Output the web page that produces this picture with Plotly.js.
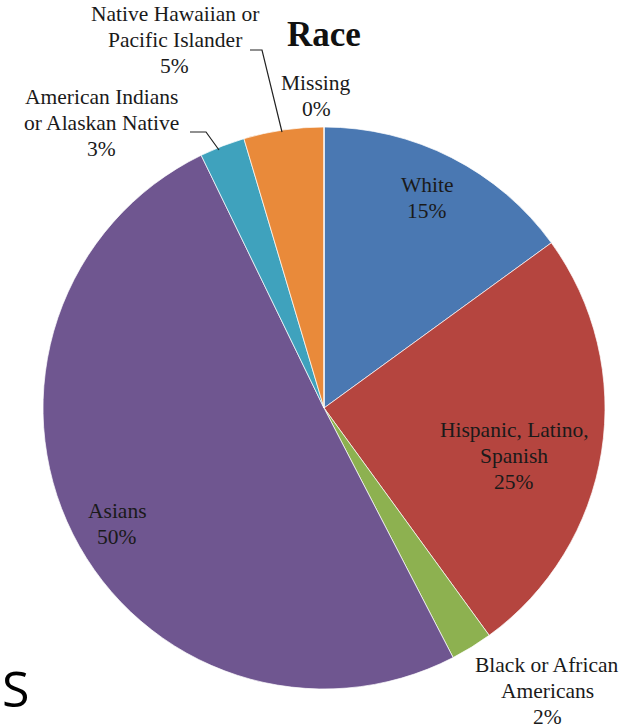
<!DOCTYPE html>
<html>
<head>
<meta charset="utf-8">
<script src="https://cdn.plot.ly/plotly-3.0.1.min.js"></script>
<style>
  html, body { margin: 0; padding: 0; background: #ffffff; }
  #chart { width: 642px; height: 728px; }
</style>
</head>
<body>
<div id="chart"></div>
<script>
// ---- data ----
const categories = ["White", "Hispanic, Latino, Spanish", "Black or African Americans", "Asians",
                    "American Indians or Alaskan Native", "Native Hawaiian or Pacific Islander", "Missing"];
const labelLines = [["White"], ["Hispanic, Latino,", "Spanish"], ["Black or African", "Americans"], ["Asians"],
                    ["American Indians", "or Alaskan Native"], ["Native Hawaiian or", "Pacific Islander"], ["Missing"]];
const values = [15, 25, 2.4, 50.4, 2.6, 4.6, 0];
const colors = ["#4a78b2", "#b5453f", "#8db150", "#6f5690", "#3fa2bd", "#e98a3a", "#2c4d75"];
const titleText = "Race";

// ---- layout helpers (pixel -> paper) ----
const W = 642, H = 728;
const px = x => x / W;
const py = y => 1 - y / H;

const total = values.reduce((a, b) => a + b, 0);
const pct = values.map(v => Math.round(v / total * 100) + "%");

// label block position: [centre x, baseline of first line] in pixels
const labelPos = [[427, 192], [514, 437], [547, 672], [117, 518], [101, 104], [175, 21], [316, 90]];
const lineGap = 26;
const fontSize = 21.5;

const font = { family: "Liberation Serif, Times New Roman, serif", size: fontSize, color: "#1a1a1a" };

const annotations = [];
categories.forEach((c, i) => {
  const lines = labelLines[i].concat([pct[i]]);
  lines.forEach((t, k) => {
    annotations.push({
      xref: "paper", yref: "paper",
      x: px(labelPos[i][0]), y: py(labelPos[i][1] + k * lineGap - 0.32 * fontSize),
      xanchor: "center", yanchor: "middle",
      text: t, showarrow: false, font: font, align: "center"
    });
  });
});

annotations.push({
  xref: "paper", yref: "paper", x: px(324), y: py(34),
  xanchor: "center", yanchor: "middle", showarrow: false,
  text: "<b>" + titleText + "</b>",
  font: { family: "Liberation Serif, Times New Roman, serif", size: 35, color: "#111111" }
});
annotations.push({
  xref: "paper", yref: "paper", x: px(0), y: py(688),
  xanchor: "left", yanchor: "middle", showarrow: false,
  text: "S",
  font: { family: "Open Sans, Noto Sans, sans-serif", size: 50, color: "#000000" }
});

const leader = pts => ({
  type: "path", xref: "paper", yref: "paper",
  path: "M " + pts.map(p => px(p[0]) + "," + py(p[1])).join(" L "),
  line: { color: "#222222", width: 1.2 }
});

const shapes = [
  leader([[250, 50], [262, 50], [282, 132]]),
  leader([[190, 132], [206, 132], [219, 150]])
];

const trace = {
  type: "pie",
  labels: categories,
  values: values,
  sort: false,
  direction: "clockwise",
  rotation: 0,
  marker: { colors: colors, line: { color: "rgba(255,255,255,0.7)", width: 1 } },
  textinfo: "none",
  hoverinfo: "none",
  showlegend: false,
  domain: { x: [px(43), px(605)], y: [py(689), py(127)] }
};

const layout = {
  width: W, height: H,
  margin: { l: 0, r: 0, t: 0, b: 0 },
  paper_bgcolor: "#ffffff",
  showlegend: false,
  annotations: annotations,
  shapes: shapes
};

Plotly.newPlot("chart", [trace], layout, { displayModeBar: false, staticPlot: true });
</script>
</body>
</html>
